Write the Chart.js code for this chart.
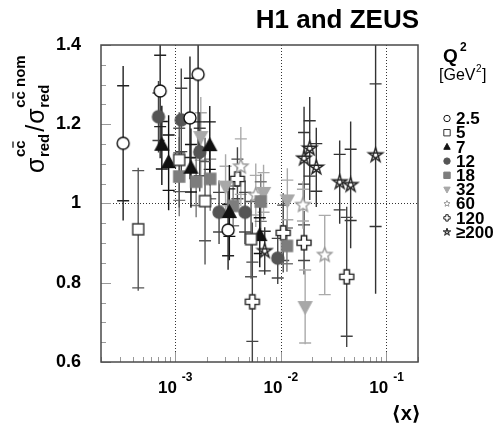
<!DOCTYPE html>
<html lang="en">
<head>
<meta charset="UTF-8">
<title>H1 and ZEUS charm ratio</title>
<script src="https://cdn.jsdelivr.net/npm/chart.js"></script>
<style>
  html, body { margin: 0; padding: 0; background: #fff; }
</style>
</head>
<body>
<canvas id="chart" width="500" height="424"></canvas>
<script>
// Q^2 bins [GeV^2]
const q2Labels = ['2.5', '5', '7', '12', '18', '32', '60', '120', '\u2265200'];

// <x>, ratio, total error, inner (stat) error for each Q^2 bin
const x_2p5 = [3.24e-4, 7.26e-4, 1.39e-3, 1.66e-3, 3.19e-3];
const r_2p5 = [1.152, 1.284, 1.216, 1.326, 0.933];
const tot_2p5 = [0.195, 0.17, 0.155, 0.2, 0.1];
const stat_2p5 = [0.145, 0.09, 0.1, 0.12, 0.065];

const x_5 = [4.50e-4, 1.10e-3, 1.93e-3, 5.26e-3];
const r_5 = [0.935, 1.11, 1.006, 0.91];
const tot_5 = [0.155, 0.12, 0.16, 0.1];
const stat_5 = [0.148, 0.08, 0.1, 0.095];

const x_7 = [7.53e-4, 8.73e-4, 1.42e-3, 2.14e-3, 3.28e-3, 6.36e-3];
const r_7 = [1.147, 1.103, 1.089, 1.146, 0.977, 0.919];
const tot_7 = [0.1, 0.12, 0.1, 0.1, 0.12, 0.08];
const stat_7 = [0.06, 0.07, 0.06, 0.06, 0.06, 0.045];

const x_12 = [7.0e-4, 1.15e-3, 1.72e-3, 2.62e-3, 4.62e-3, 9.41e-3];
const r_12 = [1.219, 1.211, 1.13, 0.978, 0.978, 0.862];
const tot_12 = [0.09, 0.13, 0.1, 0.08, 0.08, 0.065];
const stat_12 = [0.06, 0.08, 0.06, 0.05, 0.05, 0.05];

const x_18 = [1.10e-3, 1.59e-3, 2.16e-3, 3.56e-3, 6.50e-3, 1.15e-2];
const r_18 = [1.068, 1.055, 1.062, 0.994, 1.005, 0.893];
const tot_18 = [0.1, 0.09, 0.08, 0.07, 0.07, 0.065];
const stat_18 = [0.06, 0.06, 0.05, 0.05, 0.05, 0.045];

const x_32 = [1.76e-3, 3.02e-3, 6.91e-3, 1.16e-2, 1.71e-2];
const r_32 = [1.169, 1.044, 1.028, 1.009, 0.74];
const tot_32 = [0.1, 0.08, 0.07, 0.08, 0.095];
const stat_32 = [0.06, 0.05, 0.05, 0.05, 0.092];

const x_60 = [4.21e-3, 5.83e-3, 1.63e-2, 2.62e-2];
const r_60 = [1.093, 1.021, 0.996, 0.87];
const tot_60 = [0.1, 0.08, 0.06, 0.1];
const stat_60 = [0.07, 0.05, 0.04, 0.1];

const x_120 = [3.91e-3, 5.41e-3, 1.06e-2, 1.67e-2, 4.23e-2];
const r_120 = [1.062, 0.752, 0.926, 0.901, 0.815];
const tot_120 = [0.08, 0.2, 0.1, 0.08, 0.177];
const stat_120 = [0.05, 0.1, 0.07, 0.045, 0.15];

const x_200 = [7.09e-3, 1.67e-2, 1.89e-2, 2.18e-2, 3.63e-2, 4.61e-2, 7.94e-2];
const r_200 = [0.88, 1.114, 1.139, 1.091, 1.054, 1.047, 1.122];
const tot_200 = [0.06, 0.13, 0.13, 0.1, 0.105, 0.16, 0.35];
const stat_200 = [0.05, 0.065, 0.07, 0.06, 0.07, 0.09, 0.18];

// axis ticks
const yTicks = [0.6, 0.8, 1, 1.2, 1.4];
const xDecades = [1e-3, 1e-2, 1e-1];
const xDecadeExp = ['-3', '-2', '-1'];

const FONT = '"Liberation Sans", Arial, Helvetica, "DejaVu Sans", sans-serif';

// marker look for each Q^2 bin (same order as q2Labels)
const styles = [
    { kind: 'circle', r: 6, stroke: '#111', fill: '#fff', bar: '#222' },
    { kind: 'square', r: 5.5, stroke: '#333', fill: '#fff', bar: '#555' },
    { kind: 'triUp', r: 6.5, stroke: '#111', fill: '#111', bar: '#111' },
    { kind: 'circle', r: 6, stroke: '#555', fill: '#555', bar: '#444' },
    { kind: 'square', r: 5.5, stroke: '#7d7d7d', fill: '#7d7d7d', bar: '#777' },
    { kind: 'triDown', r: 6.5, stroke: '#a8a8a8', fill: '#a8a8a8', bar: '#aaa' },
    { kind: 'star', r: 7.5, stroke: '#999', fill: '#fff', bar: '#aaa' },
    { kind: 'cross', r: 7, stroke: '#222', fill: '#fff', bar: '#444' },
    { kind: 'pentagram', r: 7.5, stroke: '#222', fill: '#fff', bar: '#333' }
];

const series = [
    [x_2p5, r_2p5, tot_2p5, stat_2p5],
    [x_5, r_5, tot_5, stat_5],
    [x_7, r_7, tot_7, stat_7],
    [x_12, r_12, tot_12, stat_12],
    [x_18, r_18, tot_18, stat_18],
    [x_32, r_32, tot_32, stat_32],
    [x_60, r_60, tot_60, stat_60],
    [x_120, r_120, tot_120, stat_120],
    [x_200, r_200, tot_200, stat_200]
];

function drawMarker(ctx, kind, cx, cy, r, stroke, fill) {
    ctx.save();
    ctx.lineWidth = r > 4 ? 1.4 : 1;
    ctx.strokeStyle = stroke;
    ctx.fillStyle = fill;
    ctx.lineJoin = 'miter';
    ctx.beginPath();
    if (kind === 'circle') {
        ctx.arc(cx, cy, r, 0, 2 * Math.PI);
    } else if (kind === 'square') {
        ctx.rect(cx - r, cy - r, 2 * r, 2 * r);
    } else if (kind === 'triUp') {
        ctx.moveTo(cx, cy - r * 1.1);
        ctx.lineTo(cx + r, cy + r * 0.75);
        ctx.lineTo(cx - r, cy + r * 0.75);
        ctx.closePath();
    } else if (kind === 'triDown') {
        ctx.moveTo(cx, cy + r * 1.1);
        ctx.lineTo(cx + r, cy - r * 0.75);
        ctx.lineTo(cx - r, cy - r * 0.75);
        ctx.closePath();
    } else if (kind === 'star') {
        for (let i = 0; i < 10; i++) {
            const a = -Math.PI / 2 + i * Math.PI / 5;
            const rr = i % 2 ? r * 0.45 : r;
            const px = cx + rr * Math.cos(a), py = cy + rr * Math.sin(a);
            if (i === 0) ctx.moveTo(px, py); else ctx.lineTo(px, py);
        }
        ctx.closePath();
    } else if (kind === 'pentagram') {
        for (let i = 0; i < 5; i++) {
            const a = -Math.PI / 2 + i * 4 * Math.PI / 5;
            const px = cx + r * Math.cos(a), py = cy + r * Math.sin(a);
            if (i === 0) ctx.moveTo(px, py); else ctx.lineTo(px, py);
        }
        ctx.closePath();
    } else if (kind === 'cross') {
        const a = r * 0.38;
        const pts = [[-a, -r], [a, -r], [a, -a], [r, -a], [r, a], [a, a], [a, r], [-a, r], [-a, a], [-r, a], [-r, -a], [-a, -a]];
        pts.forEach((p, i) => i ? ctx.lineTo(cx + p[0], cy + p[1]) : ctx.moveTo(cx + p[0], cy + p[1]));
        ctx.closePath();
    }
    ctx.fill();
    ctx.stroke();
    ctx.restore();
}

function markerCanvas(st) {
    const c = document.createElement('canvas');
    const size = Math.ceil(2 * st.r + 4);
    c.width = size;
    c.height = size;
    drawMarker(c.getContext('2d'), st.kind, size / 2, size / 2, st.r, st.stroke, st.fill);
    return c;
}

// error bars: full line = total error, short ticks = inner error
const errorBars = {
    id: 'errorBars',
    beforeDatasetsDraw(chart) {
        const { ctx, chartArea: a, scales: { x, y } } = chart;
        ctx.save();
        ctx.beginPath();
        ctx.rect(a.left, a.top, a.right - a.left, a.bottom - a.top);
        ctx.clip();

        // dotted reference lines
        ctx.strokeStyle = '#333';
        ctx.lineWidth = 1;
        ctx.setLineDash([1, 2]);
        const y1 = Math.round(y.getPixelForValue(1)) + 0.5;
        ctx.beginPath();
        ctx.moveTo(a.left, y1); ctx.lineTo(a.right, y1);
        xDecades.forEach(v => {
            const px = Math.round(x.getPixelForValue(v)) + 0.5;
            ctx.moveTo(px, a.top); ctx.lineTo(px, a.bottom);
        });
        ctx.stroke();
        ctx.setLineDash([]);

        ctx.lineWidth = 1.4;
        for (let k = chart.data.datasets.length - 1; k >= 0; k--) {
            const ds = chart.data.datasets[k];
            ctx.strokeStyle = ds.barColor;
            ds.data.forEach(p => {
                const px = x.getPixelForValue(p.x);
                ctx.beginPath();
                ctx.moveTo(px, y.getPixelForValue(p.y + p.tot));
                ctx.lineTo(px, y.getPixelForValue(p.y - p.tot));
                [p.y + p.stat, p.y - p.stat].forEach(v => {
                    const py = y.getPixelForValue(v);
                    ctx.moveTo(px - 6, py);
                    ctx.lineTo(px + 6, py);
                });
                ctx.stroke();
            });
        }
        ctx.restore();
    },
    afterDraw(chart) {
        const { ctx, chartArea: a, scales: { x, y } } = chart;
        ctx.save();

        // inner tick marks
        ctx.strokeStyle = '#999';
        ctx.lineWidth = 1;
        ctx.beginPath();
        for (let v = 0.6; v <= 1.4001; v += 0.05) {
            const py = Math.round(y.getPixelForValue(v)) + 0.5;
            const major = Math.abs(v * 5 - Math.round(v * 5)) < 1e-6;
            ctx.moveTo(a.left, py); ctx.lineTo(a.left + (major ? 10 : 5), py);
        }
        for (let d = -4; d <= -1; d++) {
            for (let k = 1; k <= 9; k++) {
                const v = k * Math.pow(10, d);
                if (v < x.min || v > x.max) continue;
                const px = Math.round(x.getPixelForValue(v)) + 0.5;
                ctx.moveTo(px, a.bottom); ctx.lineTo(px, a.bottom - (k === 1 ? 10 : 5));
            }
        }
        ctx.stroke();

        // frame
        ctx.strokeStyle = '#4a4a4a';
        ctx.lineWidth = 1.5;
        ctx.strokeRect(a.left, a.top, a.right - a.left, a.bottom - a.top);

        ctx.fillStyle = '#000';
        ctx.textBaseline = 'alphabetic';

        // x tick labels 10^n
        xDecades.forEach((v, i) => {
            const px = x.getPixelForValue(v);
            ctx.font = 'bold 17px ' + FONT;
            ctx.textAlign = 'right';
            ctx.fillText('10', px + 2, 393);
            ctx.font = 'bold 12px ' + FONT;
            ctx.textAlign = 'left';
            ctx.fillText(xDecadeExp[i], px + 7, 381);
        });

        // x axis title
        ctx.font = 'bold 20px ' + FONT;
        ctx.textAlign = 'right';
        ctx.fillText('\u27E8x\u27E9', 421, 420);

        // title
        ctx.font = 'bold 26px ' + FONT;
        ctx.fillText('H1 and ZEUS', 419, 28);

        drawYTitle(ctx);
        drawLegend(ctx);
        ctx.restore();
    }
};

function drawYTitle(ctx) {
    ctx.save();
    ctx.translate(44, 173);
    ctx.rotate(-Math.PI / 2);
    ctx.textAlign = 'left';
    ctx.fillStyle = '#000';
    ctx.strokeStyle = '#000';
    ctx.lineWidth = 1.2;
    const big = '25px ' + FONT;
    const small = 'bold 15px ' + FONT;
    let u = 0;
    const piece = (sup) => {
        ctx.font = big;
        ctx.fillText('\u03C3', u, 0);
        u += ctx.measureText('\u03C3').width + 0.5;
        ctx.font = small;
        ctx.fillText('red', u, 5);
        const wSub = ctx.measureText('red').width;
        ctx.fillText(sup, u, -19);
        // bar over the second c
        const wc = ctx.measureText('c').width;
        ctx.beginPath();
        ctx.moveTo(u + wc + 1, -31);
        ctx.lineTo(u + 2 * wc - 1, -31);
        ctx.stroke();
        return Math.max(wSub, ctx.measureText(sup).width);
    };
    const w1 = piece('cc');
    u += w1 + 2;
    ctx.font = big;
    ctx.fillText('/', u, 0);
    u += ctx.measureText('/').width + 1;
    piece('cc nom');
    ctx.restore();
}

function drawLegend(ctx) {
    ctx.save();
    ctx.fillStyle = '#000';
    ctx.textAlign = 'left';
    ctx.font = 'bold 19px ' + FONT;
    ctx.fillText('Q', 443, 62);
    ctx.font = 'bold 12px ' + FONT;
    ctx.fillText('2', 460, 51);
    ctx.font = '16px ' + FONT;
    let u = 439;
    ctx.fillText('[GeV', u, 80);
    u += ctx.measureText('[GeV').width;
    ctx.font = '10px ' + FONT;
    ctx.fillText('2', u + 0.5, 72);
    u += ctx.measureText('2').width + 1;
    ctx.font = '16px ' + FONT;
    ctx.fillText(']', u, 80);

    ctx.font = 'bold 17px ' + FONT;
    ctx.textBaseline = 'middle';
    q2Labels.forEach((lab, i) => {
        const cy = 118.5 + i * 14.2;
        const st = styles[i];
        drawMarker(ctx, st.kind, 447, cy, st.kind === 'pentagram' ? 4 : 3.2, st.stroke, st.fill);
        ctx.fillText(lab, 456, cy + 1);
    });
    ctx.restore();
}

const datasets = series.map((s, i) => ({
    label: q2Labels[i],
    data: s[0].map((xv, j) => ({ x: xv, y: s[1][j], tot: s[2][j], stat: s[3][j] })),
    pointStyle: markerCanvas(styles[i]),
    barColor: styles[i].bar,
    showLine: false
}));

new Chart(document.getElementById('chart'), {
    type: 'scatter',
    data: { datasets },
    options: {
        responsive: false,
        animation: false,
        devicePixelRatio: 1,
        layout: { padding: { left: 0, top: 45, right: 82, bottom: 0 } },
        plugins: { legend: { display: false }, tooltip: { enabled: false } },
        scales: {
            x: {
                type: 'logarithmic',
                min: 2e-4,
                max: 0.2,
                grid: { display: false },
                border: { display: false },
                ticks: { display: false },
                afterFit: s => { s.height = 62; }
            },
            y: {
                min: 0.6,
                max: 1.4,
                grid: { display: false },
                border: { display: false },
                afterBuildTicks: s => { s.ticks = yTicks.map(v => ({ value: v })); },
                ticks: {
                    color: '#000',
                    padding: 12,
                    font: { family: FONT, size: 18, weight: 'bold' },
                    callback: v => String(+(+v).toFixed(1))
                },
                afterFit: s => { s.width = 101; }
            }
        }
    },
    plugins: [errorBars]
});
</script>
</body>
</html>
